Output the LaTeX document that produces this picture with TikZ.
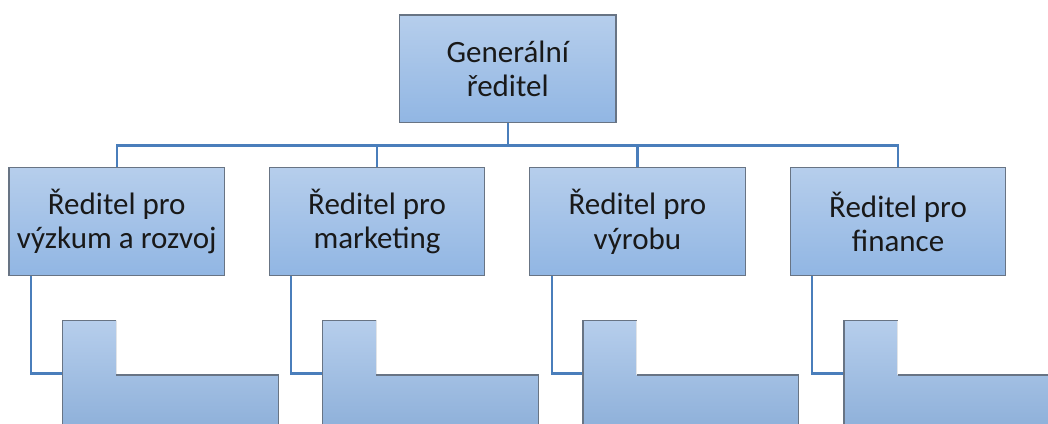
\documentclass[tikz,border=0pt]{standalone}
\usepackage{fontspec}
\setmainfont{Carlito}
\usetikzlibrary{backgrounds}
\definecolor{boxtop}{RGB}{182,206,236}
\definecolor{boxbot}{RGB}{145,182,227}
\definecolor{boxline}{RGB}{104,116,132}
\definecolor{edgelight}{RGB}{225,228,232}
\definecolor{linkcol}{RGB}{74,126,187}
\tikzset{
  unit/.style={draw=boxline, line width=1.1pt, top color=boxtop, bottom color=boxbot,
    minimum width=215.5pt, minimum height=108pt, inner sep=0pt, outer sep=0pt,
    align=center, anchor=north west, font=\fontsize{31}{34.5}\selectfont, text=black!90},
  link/.style={draw=linkcol, line width=2.4pt},
  stubfill/.style={top color=boxtop, bottom color=boxbot!95!black},
  stubline/.style={draw=boxline, line width=1.1pt},
  stubedge/.style={draw=edgelight, line width=1.1pt},
}
\begin{document}
\begin{tikzpicture}[x=1pt,y=-1pt]
\useasboundingbox (0,0) rectangle (1048,423);
\clip (0,0) rectangle (1048,423);

% director and the four division heads
\node[unit, minimum width=216.5pt, minimum height=107.5pt] (gen) at (399.5,15) {Generální\\ředitel};
\node[unit] (r1) at (9,167.7) {Ředitel pro\\výzkum a rozvoj};
\node[unit] (r2) at (269.3,167.7) {Ředitel pro\\marketing};
\node[unit] (r3) at (529.7,167.7) {Ředitel pro\\výrobu};
\node[unit] (r4) at (790.3,167.7) {Ředitel pro\\finance};

% attachment points of the empty subordinate shapes
\coordinate (c1) at (62.7,373.5);
\coordinate (c2) at (322.8,373.5);
\coordinate (c3) at (583.0,373.5);
\coordinate (c4) at (844.0,373.5);

\begin{scope}[on background layer]
  \draw[link] (gen.south) -- ++(0,23) -| (r1.north);
  \draw[link] (gen.south) -- ++(0,23) -| (r2.north);
  \draw[link] (gen.south) -- ++(0,23) -| (r3.north);
  \draw[link] (gen.south) -- ++(0,23) -| (r4.north);
  \draw[link] (r1.south west) ++(21.7,0) |- (c1);
  \draw[link] (r2.south west) ++(21.7,0) |- (c2);
  \draw[link] (r3.south west) ++(22.5,0) |- (c3);
  \draw[link] (r4.south west) ++(21.5,0) |- (c4);
\end{scope}

% empty L-shaped subordinate placeholders, cut by the lower edge
\foreach \L in {62.7,322.8,583.0,844.0} {
  \fill[stubfill] (\L,320.7) -- (\L+53.5,320.7) -- (\L+53.5,375) -- (\L+215.6,375)
     -- (\L+215.6,440) -- (\L,440) -- cycle;
  \draw[stubline] (\L,440) -- (\L,320.7) -- (\L+53.5,320.7);
  \draw[stubedge] (\L+53.5,320.7) -- (\L+53.5,375);
  \draw[stubline] (\L+53.5,375) -- (\L+215.6,375) -- (\L+215.6,440);
}
\end{tikzpicture}
\end{document}
